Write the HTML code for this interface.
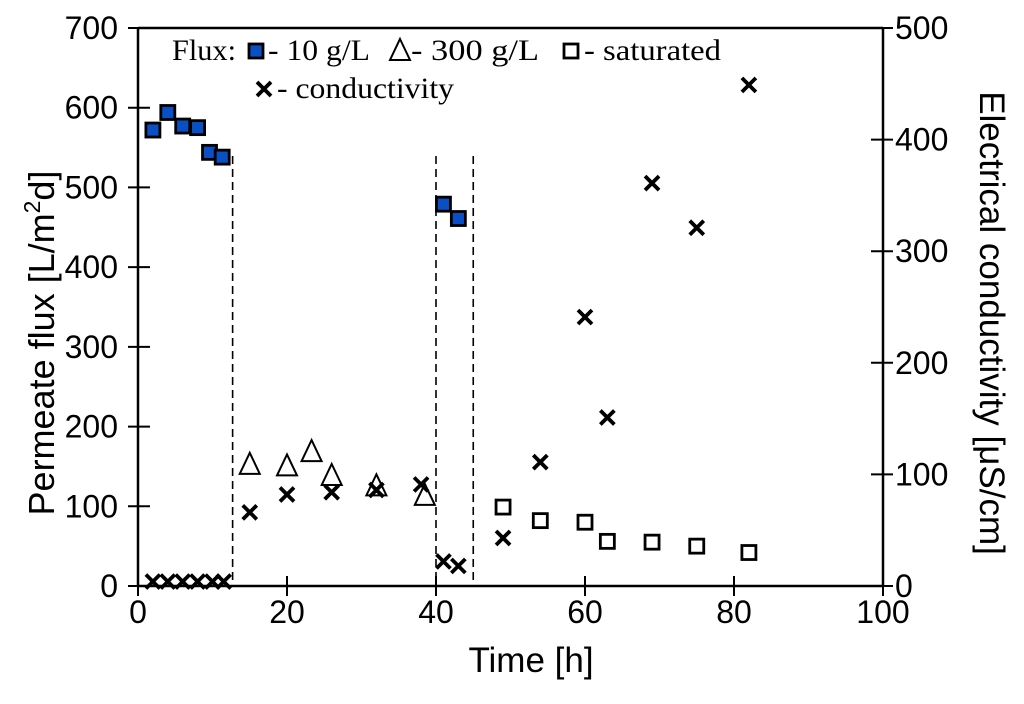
<!DOCTYPE html>
<html><head><meta charset="utf-8"><style>
body{margin:0;background:#fff}
svg text{font-family:"Liberation Sans",sans-serif;fill:#000}
</style></head><body>
<svg id="chart" width="1024" height="699" viewBox="0 0 1024 699" xmlns="http://www.w3.org/2000/svg"></svg>
<script>
const xTicks=[0,20,40,60,80,100];
const yLeftTicks=[0,100,200,300,400,500,600,700];
const yRightTicks=[0,100,200,300,400,500];
const flux10X=[2,4,6,8,9.6,11.3,41,43];
const flux10Y=[572,594,577,575,544,538,479,461];
const flux300X=[15,20,23.3,26,32,38.5];
const flux300Y=[152,150,168,138,125,113];
const satX=[49,54,60,63,69,75,82];
const satY=[99,82,80,56,55,50,42];
const condX=[2,4,6,8,10,11.5,15,20,26,32,38,41,43,49,54,60,63,69,75,82];
const condY=[4,4,4,4,4,4,66,82,84,86,91,22,18,43,111,241,151,361,321,449];
const dividers=[12.7,40,45];

const L=138,R=883,T=28,B=586;
const sx=v=>L+(R-L)*v/100;
const syL=v=>B-(B-T)*v/700;
const syR=v=>B-(B-T)*v/500;
const svg=document.getElementById('chart');
const NS='http://www.w3.org/2000/svg';
function mk(tag,attrs,parent){const e=document.createElementNS(NS,tag);for(const k in attrs)e.setAttribute(k,attrs[k]);(parent||svg).appendChild(e);return e;}

let ax=mk('line',{x1:L,y1:B,x2:R,y2:B,stroke:'#000','stroke-width':2.5});


ax=mk('line',{x1:L,y1:T,x2:L,y2:B,stroke:'#000','stroke-width':2.5});


ax=mk('line',{x1:R,y1:T,x2:R,y2:B,stroke:'#000','stroke-width':2.5});


ax=mk('line',{x1:L,y1:T,x2:R,y2:T,stroke:'#000','stroke-width':2.5});



xTicks.forEach(v=>{
  mk('line',{x1:sx(v),y1:B-10,x2:sx(v),y2:B+10,stroke:'#000','stroke-width':2});
  const t=mk('text',{x:sx(v),y:B+37,'text-anchor':'middle','font-size':32});
  t.textContent=v;
  
  
});
yLeftTicks.forEach(v=>{
  mk('line',{x1:L-10,y1:syL(v),x2:L+12,y2:syL(v),stroke:'#000','stroke-width':2});
  const t=mk('text',{x:L-20,y:syL(v)+11,'text-anchor':'end','font-size':32});
  t.textContent=v;
  
  
});
yRightTicks.forEach(v=>{
  mk('line',{x1:R-12,y1:syR(v),x2:R+10,y2:syR(v),stroke:'#000','stroke-width':2});
  const t=mk('text',{x:R+12,y:syR(v)+11,'text-anchor':'start','font-size':32});
  t.textContent=v;
  
  
});

dividers.forEach(v=>{
  const d=mk('line',{x1:sx(v),y1:156,x2:sx(v),y2:B,stroke:'#000','stroke-width':1.6,'stroke-dasharray':'8,5'});
  
  
});

function sq(x,y,fill,p){return mk('rect',{x:x-7,y:y-7,width:14,height:14,fill:fill,stroke:'#000','stroke-width':2.8},p);}
function tri(x,y,p){return mk('path',{d:`M${x},${y-12}L${x+10},${y+9}L${x-10},${y+9}Z`,fill:'none',stroke:'#000','stroke-width':2},p);}
function cross(x,y,p){const g=mk('g',{},p);mk('path',{d:`M${x-7},${y-7}L${x+7},${y+7}M${x+7},${y-7}L${x-7},${y+7}`,stroke:'#000','stroke-width':3.8},g);return g;}

flux10X.forEach((v,i)=>{const m=sq(sx(v),syL(flux10Y[i]),'#0a4fc4');
  
  });
flux300X.forEach((v,i)=>{const m=tri(sx(v),syL(flux300Y[i]));
  
  });
satX.forEach((v,i)=>{const m=sq(sx(v),syL(satY[i]),'#fff');
  
  });
condX.forEach((v,i)=>{const m=cross(sx(v),syR(condY[i]));
  
  });

let t=mk('text',{x:531,y:672,'text-anchor':'middle','font-size':35});
t.textContent='Time [h]';


t=mk('text',{x:0,y:0,'text-anchor':'middle','font-size':36,transform:'translate(54,343) rotate(-90)'});
t.innerHTML='Permeate flux [L/m<tspan font-size="23" dy="-14">2</tspan><tspan dy="14">d]</tspan>';


t=mk('text',{x:0,y:0,'text-anchor':'middle','font-size':35,transform:'translate(980,323) rotate(90)'});
t.textContent='Electrical conductivity [μS/cm]';



const lg=mk('g',{});


function lt(x,y,s,w){const e=mk('text',{x:x,y:y,'font-size':30,textLength:w,lengthAdjust:'spacingAndGlyphs',style:'font-family:"Liberation Serif",serif'},lg);e.textContent=s;return e;}
lt(172,60,'Flux:',64);
sq(256,51,'#0a4fc4',lg);lt(268,60,'- 10 g/L',102);
tri(400,51,lg);lt(411,60,'- 300 g/L',128);
sq(571,51,'#fff',lg);lt(584,60,'- saturated',137);
cross(264,89,lg);lt(277,98,'- conductivity',177);
</script>
</body></html>
